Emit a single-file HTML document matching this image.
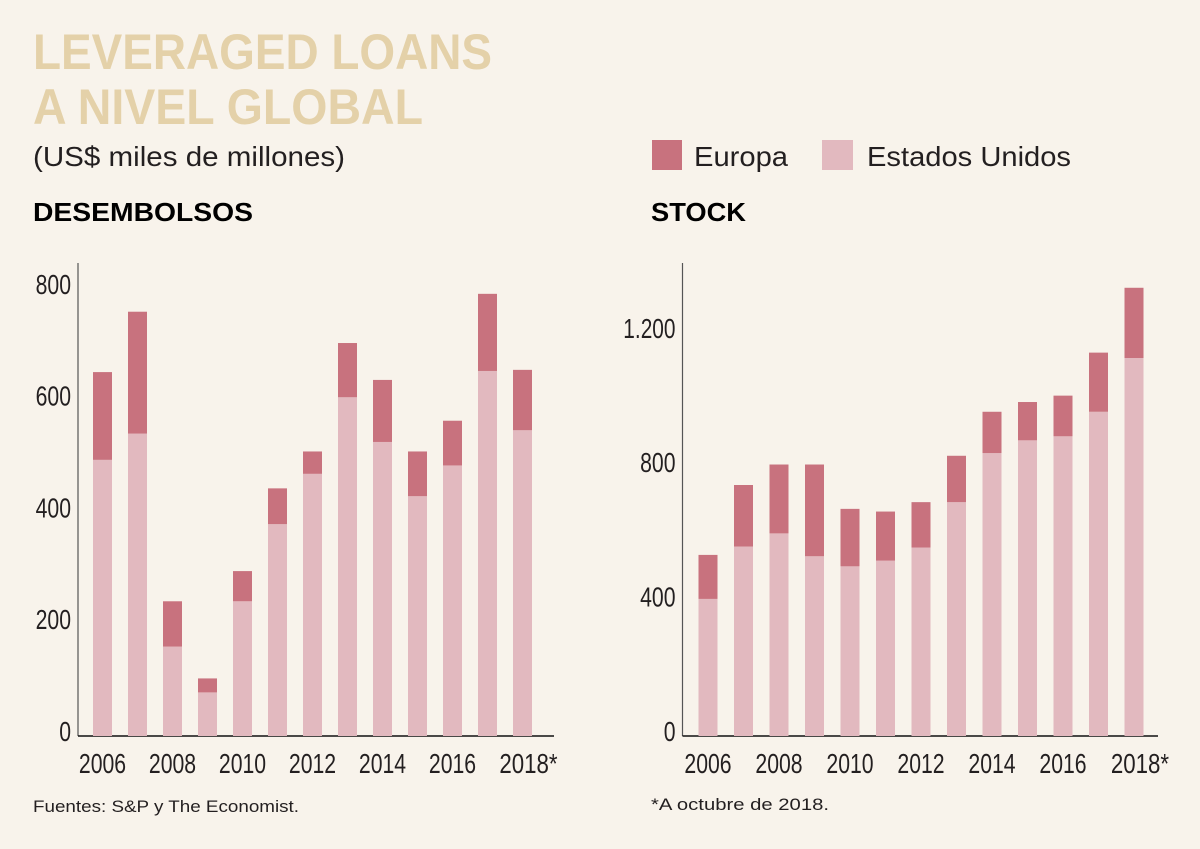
<!DOCTYPE html>
<html><head><meta charset="utf-8"><style>
html,body{margin:0;padding:0;background:#f8f3eb;}
svg{display:block;font-family:"Liberation Sans",sans-serif;}
</style></head><body>
<svg id="c" width="1200" height="849" viewBox="0 0 1200 849">
<rect width="1200" height="849" fill="#f8f3eb"/>
<text x="33" y="69" font-family="Liberation Sans, sans-serif" font-weight="bold" font-size="50" fill="#e4d1a9" textLength="459" lengthAdjust="spacingAndGlyphs">LEVERAGED LOANS</text>
<text x="33" y="124" font-family="Liberation Sans, sans-serif" font-weight="bold" font-size="50" fill="#e4d1a9" textLength="390" lengthAdjust="spacingAndGlyphs">A NIVEL GLOBAL</text>
<text x="33" y="166" font-family="Liberation Sans, sans-serif" font-size="28" fill="#231f20" textLength="312" lengthAdjust="spacingAndGlyphs">(US$ miles de millones)</text>
<rect x="652" y="140" width="30" height="30" fill="#c8727e"/>
<text x="694" y="166" font-family="Liberation Sans, sans-serif" font-size="28" fill="#231f20" textLength="94" lengthAdjust="spacingAndGlyphs">Europa</text>
<rect x="822" y="140" width="31" height="30" fill="#e2b9bf"/>
<text x="867" y="166" font-family="Liberation Sans, sans-serif" font-size="28" fill="#231f20" textLength="204" lengthAdjust="spacingAndGlyphs">Estados Unidos</text>
<text x="33" y="221" font-family="Liberation Sans, sans-serif" font-weight="bold" font-size="26" fill="#000" textLength="220" lengthAdjust="spacingAndGlyphs">DESEMBOLSOS</text>
<text x="651" y="221" font-family="Liberation Sans, sans-serif" font-weight="bold" font-size="26" fill="#000" textLength="95" lengthAdjust="spacingAndGlyphs">STOCK</text>
<text x="33" y="812" font-family="Liberation Sans, sans-serif" font-size="17" fill="#231f20" textLength="266" lengthAdjust="spacingAndGlyphs">Fuentes: S&amp;P y The Economist.</text>
<text x="651" y="810" font-family="Liberation Sans, sans-serif" font-size="17" fill="#231f20" textLength="178" lengthAdjust="spacingAndGlyphs">*A octubre de 2018.</text>
<g id="left"></g>
<g id="right"></g>
</svg>
<script>
const years = ["2006","2007","2008","2009","2010","2011","2012","2013","2014","2015","2016","2017","2018*"];
const yearLabels = ["2006","2008","2010","2012","2014","2016","2018*"];
const desUS = [494,541,160,78,241,379,469,606,526,429,484,653,547];
const desEU = [157,218,81,25,54,64,40,97,111,80,80,138,108];
const desTicks = [0,200,400,600,800];
const desTickLabels = ["0","200","400","600","800"];
const stkUS = [408,564,603,535,505,522,561,696,842,880,892,965,1125];
const stkEU = [131,183,205,273,171,146,135,138,123,114,121,176,209];
const stkTicks = [0,400,800,1200];
const stkTickLabels = ["0","400","800","1.200"];

const NS = "http://www.w3.org/2000/svg";
function mk(tag, attrs, parent){const e=document.createElementNS(NS,tag);for(const k in attrs)e.setAttribute(k,attrs[k]);parent.appendChild(e);return e;}
function tlen(s){let w=0;for(const ch of s){w += ch==="." ? 5 : (ch==="*" ? 11 : 11.8);}return w;}

function draw(g, us, eu, ticks, tickLabels, cfg, prefix){
  const y = v => cfg.base - v*cfg.k;
  const xc = i => cfg.x0 + i*cfg.step;
  const axY = mk("line",{x1:cfg.ax,x2:cfg.ax,y1:263,y2:cfg.base,stroke:"#555","stroke-width":1.2},g);
  
  
  const axX = mk("line",{x1:cfg.ax,x2:cfg.axEnd,y1:cfg.base,y2:cfg.base,stroke:"#111","stroke-width":1.5},g);
  
  
  ticks.forEach((t,i)=>{
    const s = tickLabels[i];
    const tx = mk("text",{x:cfg.ax-7,y:y(t)+5,"text-anchor":"end","font-size":28,fill:"#231f20",textLength:tlen(s),lengthAdjust:"spacingAndGlyphs"},g);
    tx.textContent = s;
    
    
  });
  years.forEach((yr,i)=>{
    const bu = mk("rect",{x:xc(i)-9.5,width:19,y:y(us[i]),height:us[i]*cfg.k,fill:"#e2b9bf"},g);
    
    
    const be = mk("rect",{x:xc(i)-9.5,width:19,y:y(us[i]+eu[i]),height:eu[i]*cfg.k,fill:"#c8727e"},g);
    
    
    if(yearLabels.includes(yr)){
      const lx = yr.endsWith("*") ? xc(i)+6 : xc(i);
      const t = mk("text",{x:lx,y:cfg.base+37,"text-anchor":"middle","font-size":28,fill:"#231f20",textLength:tlen(yr),lengthAdjust:"spacingAndGlyphs"},g);
      t.textContent = yr;
      
      
    }
  });
}
draw(document.getElementById("left"), desUS, desEU, desTicks, desTickLabels,
  {base:736,k:0.559,x0:102.5,step:35,ax:78,axEnd:554}, "desembolsos");
draw(document.getElementById("right"), stkUS, stkEU, stkTicks, stkTickLabels,
  {base:736,k:0.336,x0:708,step:35.5,ax:682.5,axEnd:1158}, "stock");
</script>
</body></html>
